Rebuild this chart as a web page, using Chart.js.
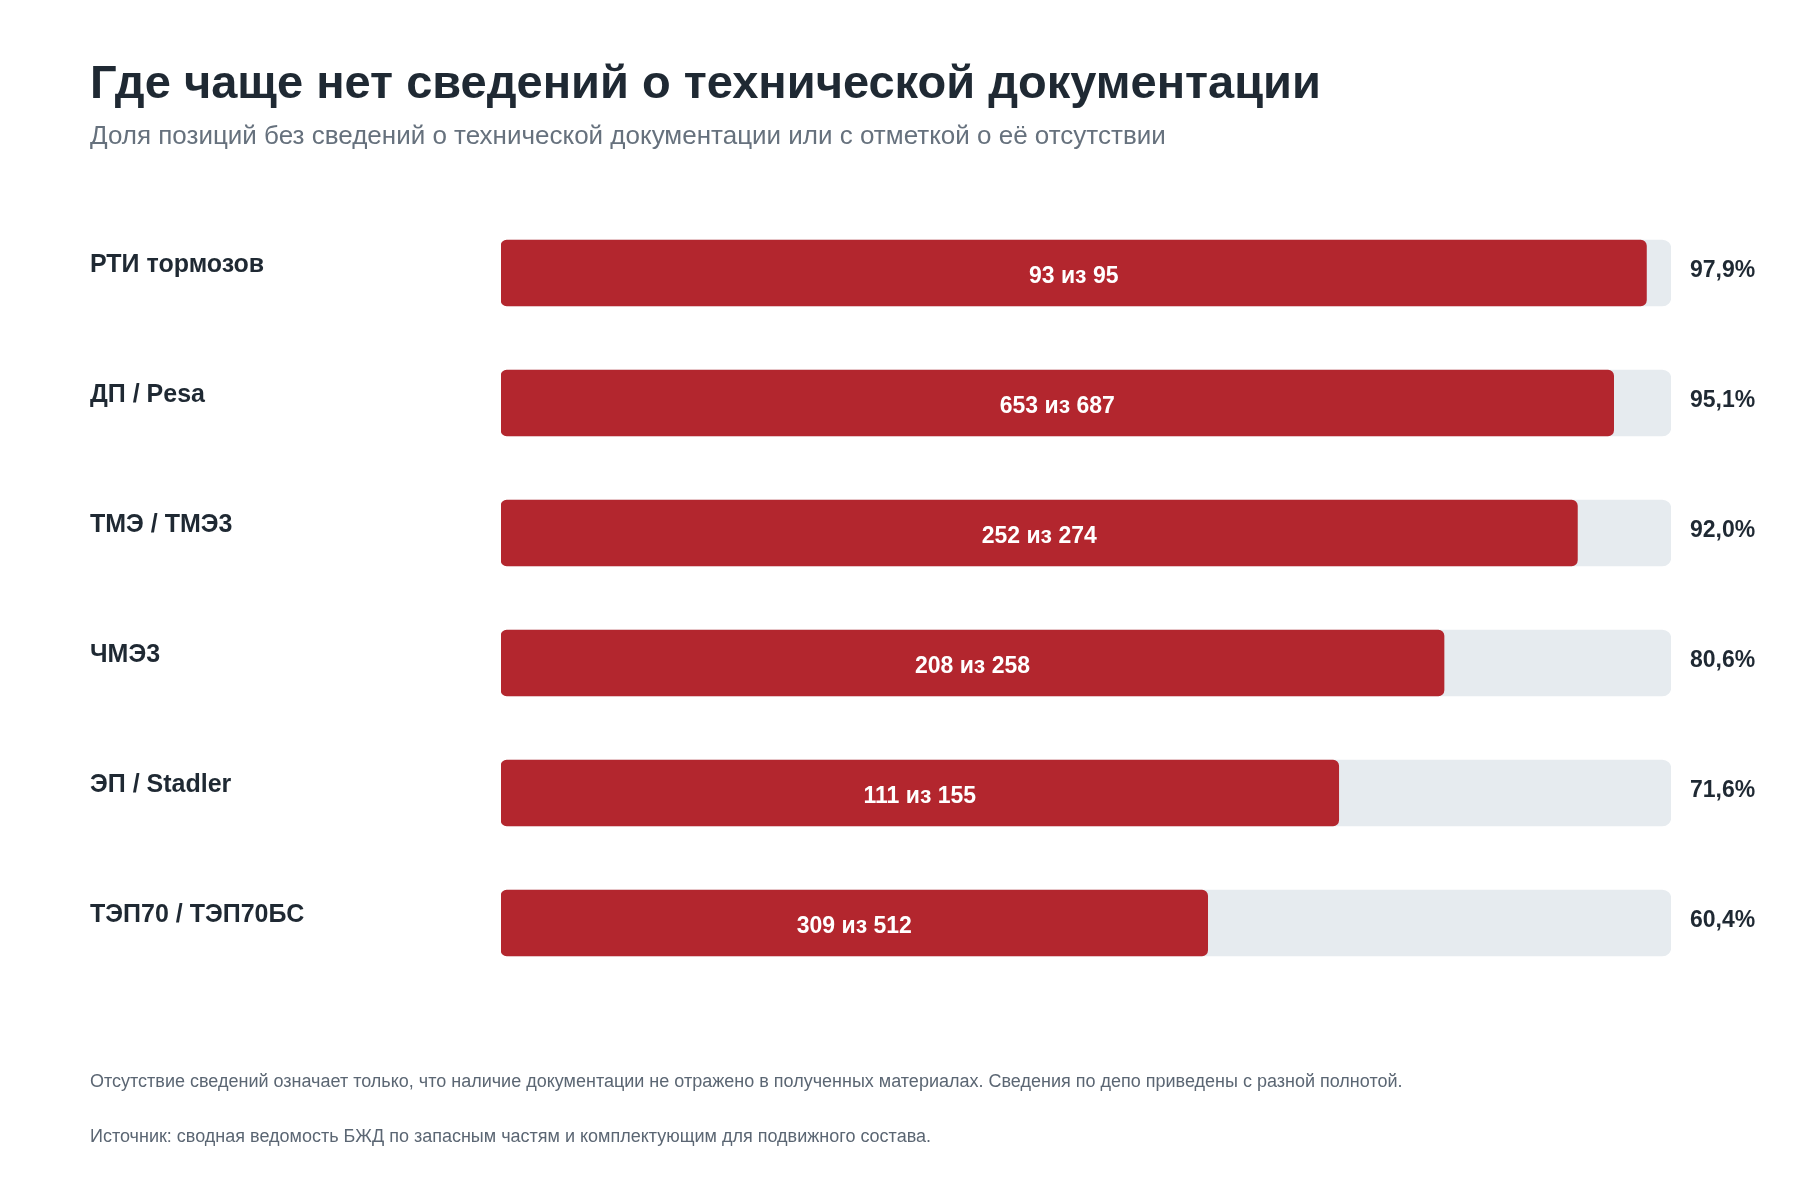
<!DOCTYPE html>
<html lang="ru">
<head>
<meta charset="utf-8">
<title>Где чаще нет сведений о технической документации</title>
<script src="https://cdn.jsdelivr.net/npm/chart.js@4.4.1/dist/chart.umd.min.js"></script>
<style>
  html, body { margin: 0; padding: 0; background: #fff; }
  body { font-family: 'Liberation Sans', Arial, sans-serif; }
  .wrap { position: relative; width: 1800px; height: 1180px; overflow: hidden; }
  #chart { position: absolute; left: 0; top: 0; }
  .txt { position: absolute; left: 90px; line-height: 1; white-space: nowrap; }
  .title { top: 58px; font-size: 47px; font-weight: bold; color: #1f2933; }
  .subtitle { top: 122px; font-size: 26px; color: #66717d; }
  .note { font-size: 18px; color: #5b6673; }
</style>
</head>
<body>
<div class="wrap">
  <canvas id="chart" width="1800" height="1180"></canvas>
  <div class="txt title">Где чаще нет сведений о технической документации</div>
  <div class="txt subtitle">Доля позиций без сведений о технической документации или с отметкой о её отсутствии</div>
  <div class="txt note" style="top:1072px">Отсутствие сведений означает только, что наличие документации не отражено в полученных материалах. Сведения по депо приведены с разной полнотой.</div>
  <div class="txt note" style="top:1127px">Источник: сводная ведомость БЖД по запасным частям и комплектующим для подвижного состава.</div>
</div>
<script>
(() => {
  'use strict'

  const depots = ['РТИ тормозов', 'ДП / Pesa', 'ТМЭ / ТМЭ3', 'ЧМЭ3', 'ЭП / Stadler', 'ТЭП70 / ТЭП70БС']
  const missing = [93, 653, 252, 208, 111, 309]
  const totals = [95, 687, 274, 258, 155, 512]
  const shares = [97.9, 95.1, 92.0, 80.6, 71.6, 60.4]
  const track = [100, 100, 100, 100, 100, 100]
  const shareLabels = ['97,9%', '95,1%', '92,0%', '80,6%', '71,6%', '60,4%']

  const font = "'Liberation Sans', Arial, sans-serif"
  Chart.defaults.font.family = font

  // подписи "N из M" по центру красной полосы
  const innerLabels = {
    id: 'innerLabels',
    afterDatasetsDraw(chart) {
      const c = chart.ctx
      const meta = chart.getDatasetMeta(0)
      c.save()
      c.fillStyle = '#ffffff'
      c.font = 'bold 23px ' + font
      c.textAlign = 'center'
      c.textBaseline = 'middle'
      meta.data.forEach((bar, i) => {
        c.fillText(missing[i] + ' из ' + totals[i], (bar.x + bar.base) / 2, bar.y + 4)
      })
      c.restore()
    }
  }

  const ctx = document.getElementById('chart')

  new Chart(ctx, {
    type: 'bar',
    data: {
      labels: depots,
      datasets: [
        {
          label: 'Без сведений',
          data: shares,
          backgroundColor: '#b3262e',
          borderRadius: 6,
          borderSkipped: false,
          barThickness: 66,
          grouped: false,
          order: 0
        },
        {
          label: 'Всего',
          data: track,
          backgroundColor: '#e6ebef',
          borderRadius: 9,
          borderSkipped: false,
          barThickness: 66,
          grouped: false,
          order: 1
        }
      ]
    },
    options: {
      indexAxis: 'y',
      responsive: false,
      animation: false,
      layout: { padding: { top: 208, bottom: 192, left: 90, right: 0 } },
      scales: {
        x: { min: 0, max: 100, display: false },
        y: {
          position: 'left',
          offset: true,
          grid: { display: false, drawTicks: false },
          border: { display: false },
          ticks: {
            crossAlign: 'far',
            labelOffset: -8,
            color: '#1f2933',
            font: { size: 25, weight: 'bold' }
          },
          afterFit(scale) { scale.width = 411 }
        },
        yRight: {
          type: 'category',
          position: 'right',
          labels: shareLabels,
          offset: true,
          grid: { display: false, drawTicks: false },
          border: { display: false },
          ticks: {
            padding: 19,
            labelOffset: -2,
            color: '#1f2933',
            font: { size: 23, weight: 'bold' }
          },
          afterFit(scale) { scale.width = 129 }
        }
      },
      plugins: {
        legend: { display: false },
        tooltip: { enabled: false }
      }
    },
    plugins: [innerLabels]
  })
})()
</script>
</body>
</html>
